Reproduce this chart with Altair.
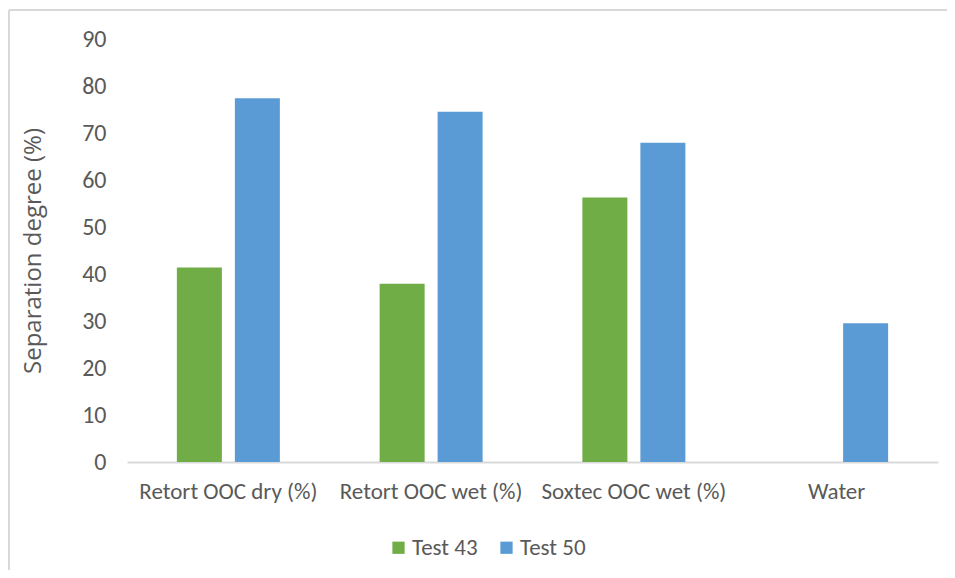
import altair as alt
import pandas as pd

categories = ["Retort OOC dry (%)", "Retort OOC wet (%)", "Soxtec OOC wet (%)", "Water"]
series_names = ["Test 43", "Test 50"]
test43 = [41.4, 37.9, 56.3, None]
test50 = [77.4, 74.5, 67.9, 29.5]
colors = ["#70AD47", "#5B9BD5"]
y_ticks = [0, 10, 20, 30, 40, 50, 60, 70, 80, 90]

rows = []
for cat, a, b in zip(categories, test43, test50):
    rows.append({"category": cat, "series": series_names[0], "value": a})
    rows.append({"category": cat, "series": series_names[1], "value": b})
df = pd.DataFrame(rows)

LABEL_FONT = "Carlito, Lato, sans-serif"
GREY = "#595959"

bars = alt.Chart(df).mark_bar().encode(
    x=alt.X("category:N", sort=categories,
            scale=alt.Scale(paddingInner=0.492, paddingOuter=0.246),
            axis=alt.Axis(title=None, labelAngle=0, labelFont=LABEL_FONT,
                          labelFontSize=23, labelColor=GREY, labelPadding=18,
                          labelLimit=0, ticks=False,
                          domainColor="#d9d9d9", domainWidth=2)),
    xOffset=alt.XOffset("series:N", sort=series_names,
                        scale=alt.Scale(paddingInner=0.224, paddingOuter=0)),
    y=alt.Y("value:Q",
            scale=alt.Scale(domain=[0, 90], nice=False),
            axis=alt.Axis(values=y_ticks, title="Separation degree (%)",
                          titleFont="Open Sans", titleFontSize=24,
                          titleFontWeight="normal", titleColor=GREY,
                          titleX=-94, titleY=211.5, titleBaseline="middle",
                          titleAngle=-90, titleAlign="center",
                          labelFont=LABEL_FONT, labelFontSize=24,
                          labelColor=GREY, labelPadding=21,
                          domain=False, ticks=False, grid=False)),
    color=alt.Color("series:N", sort=series_names,
                    scale=alt.Scale(domain=series_names, range=colors),
                    legend=alt.Legend(title=None, orient="none",
                                      direction="horizontal",
                                      legendX=260, legendY=497,
                                      symbolType="square", symbolSize=150,
                                      symbolStrokeWidth=0,
                                      labelFont=LABEL_FONT, labelFontSize=23,
                                      labelColor=GREY, labelOffset=2,
                                      columnPadding=17, padding=0)),
)

frame = alt.Data(values=[{"k": 1}])
top_line = alt.Chart(frame).mark_rule(color="#d9d9d9", strokeWidth=2).encode(
    x=alt.value(-118), x2=alt.value(2000), y=alt.value(-29))
left_line = alt.Chart(frame).mark_rule(color="#d9d9d9", strokeWidth=2).encode(
    x=alt.value(-118), y=alt.value(-29), y2=alt.value(2000))

chart = alt.layer(bars, top_line, left_line).properties(
    width=811, height=423,
    autosize=alt.AutoSizeParams(type="none"),
    padding={"left": 119, "top": 31, "right": 9, "bottom": 108},
    background="white",
).configure_view(stroke=None)

chart.save("out.html", embed_options={"renderer": "svg", "actions": False})
